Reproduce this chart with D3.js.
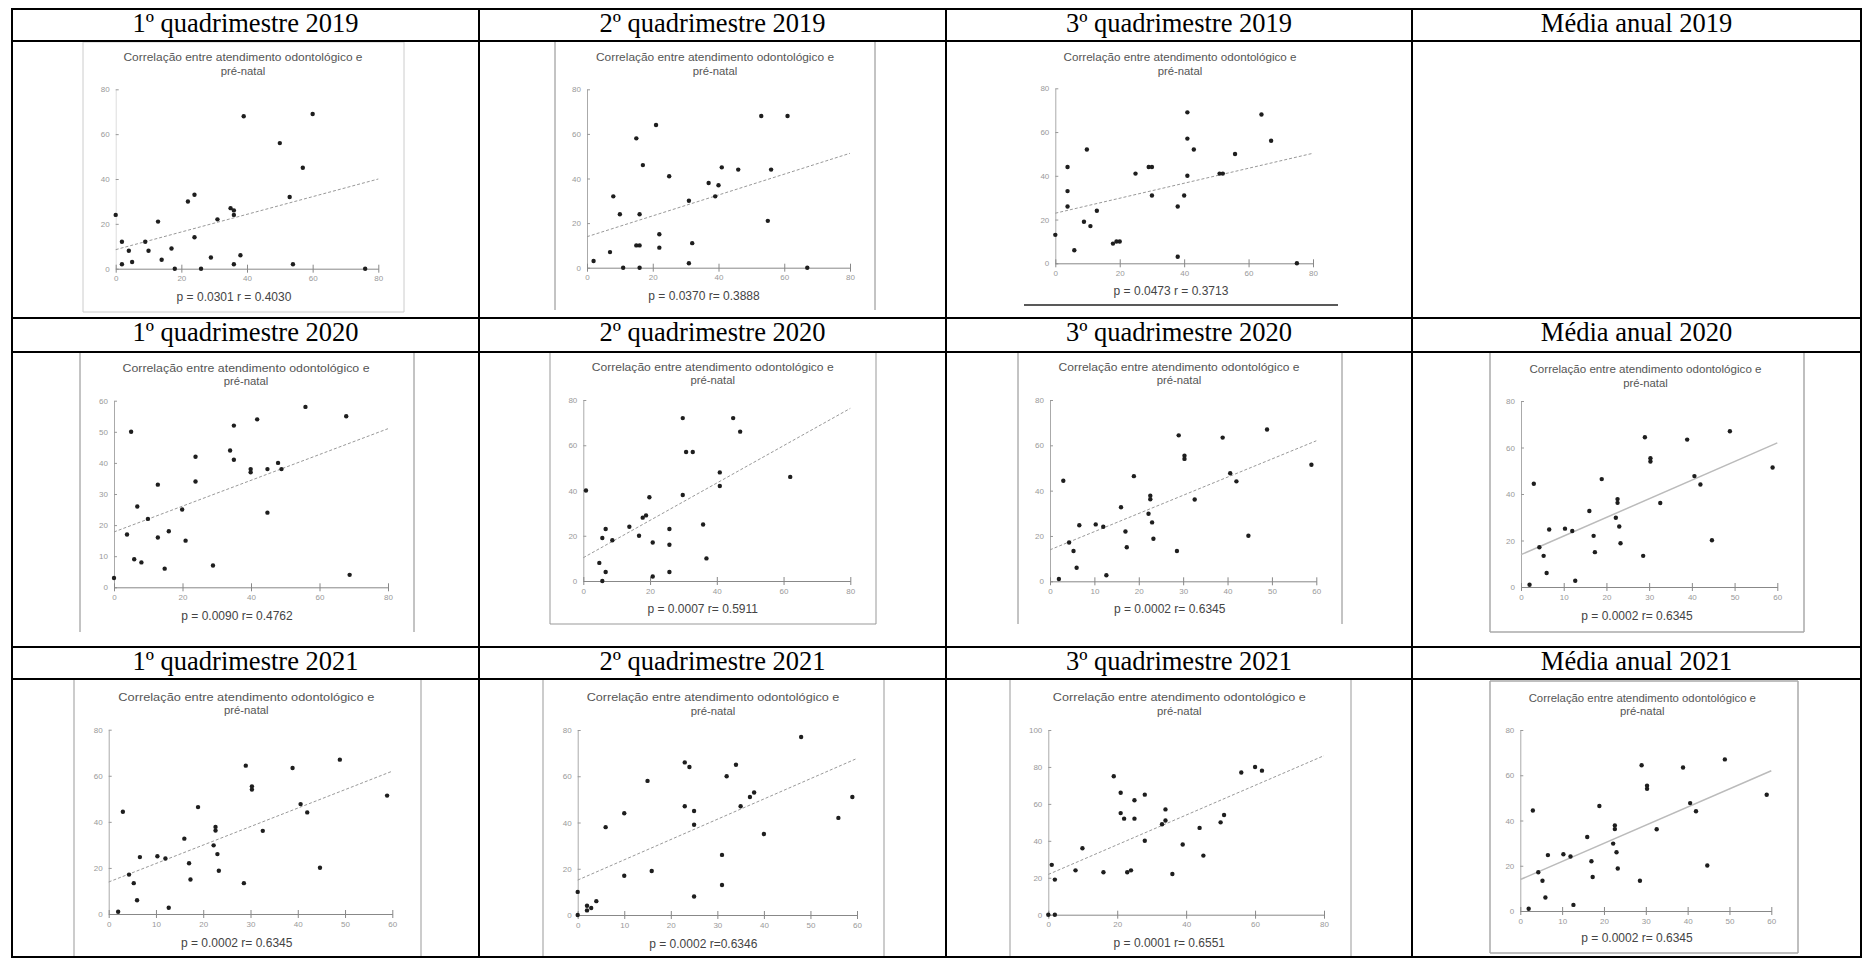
<!DOCTYPE html>
<html>
<head>
<meta charset="utf-8">
<script src="https://cdn.jsdelivr.net/npm/d3@7"></script>
<style>
  body { margin: 0; background: #fff; }
</style>
</head>
<body>
<div id="chart"></div>
<script>
// ---------- data ----------
const headers = [
  ["1º quadrimestre 2019", "2º quadrimestre 2019", "3º quadrimestre 2019", "Média anual 2019"],
  ["1º quadrimestre 2020", "2º quadrimestre 2020", "3º quadrimestre 2020", "Média anual 2020"],
  ["1º quadrimestre 2021", "2º quadrimestre 2021", "3º quadrimestre 2021", "Média anual 2021"]
];
const titleLines = ["Correlação entre atendimento odontológico e", "pré-natal"];

const ticks0to80by20 = [0, 20, 40, 60, 80];
const ticks0to60by10 = [0, 10, 20, 30, 40, 50, 60];
const ticks0to100by20 = [0, 20, 40, 60, 80, 100];

// points are [odontológico, pré-natal]
const pts_q1_2019 = [[0,24],[1.9,12],[1.9,2],[4,8],[5,3],[9,12],[10,8],[12.9,21],[14,4],[17,9],[18,0],
  [22,30],[24,33],[24,14],[26,0],[29,5],[31,22],[35,27],[36,26],[36,24],[36,2],[38,6],[39,68],
  [50,56],[53,32],[54,2],[57,45],[60,69],[76,0]];
const pts_q2_2019 = [[2,3],[7,7],[8,32],[10,24],[11,0],[15,58],[15,10],[16,10],[16,24],[16,0],[17,46],
  [21,64],[22,15],[22,9],[25,41],[31,30],[31,2],[32,11],[37,38],[40,37],[39,32],[41,45],[46,44],
  [53,68],[55,21],[56,44],[61,68],[67,0]];
const pts_q3_2019 = [[0,13],[3.8,44],[3.8,33],[3.8,26],[5.9,6],[8.9,19],[9.8,52],[10.9,17],[12.9,24],
  [17.9,9],[19,10],[20,10],[24.9,41],[29,44],[30,44],[30,31],[38,26],[38,3],[40,31],[41,69],[41,57],
  [41,40],[43,52],[51,41],[52,41],[55.8,50],[64,68],[67,56],[75,0]];
const pts_q1_2020 = [[0,3],[3.8,17],[5,50],[5.9,9],[6.8,26],[8,8],[9.9,22],[12.8,33],[12.8,16],[14.8,6],
  [16,18],[19.9,25],[20.9,15],[23.8,42],[23.8,34],[28.9,7],[33.9,44],[35,52],[35,41],[39.9,38],
  [39.9,37],[41.8,54],[44.8,38],[44.8,24],[47.9,40],[48.9,38],[55.9,58],[67.8,55],[68.8,4]];
const pts_q2_2020 = [[0.8,40],[4.8,8],[5.7,19],[5.7,0],[6.7,23],[6.7,4],[8.7,18],[13.8,24],[16.7,20],
  [17.8,28],[18.8,29],[19.8,37],[20.8,17],[20.8,2],[25.8,23],[25.8,16],[25.8,4],[29.8,72],[29.8,38],
  [30.8,57],[32.8,57],[35.9,25],[36.9,10],[40.9,48],[40.9,42],[44.9,72],[47,66],[62,46]];
// the 3º quadrimestre 2020 chart is repeated for média 2020, 1º quad. 2021 and média 2021
const pts_q3_2020 = [[2,1],[3,44.4],[4.3,17.1],[5.3,13.4],[6,6],[6.6,24.7],[10.3,25.1],[12,24.1],
  [12.7,2.7],[16,32.7],[17,22],[17.3,15],[18.9,46.4],[22.2,29.8],[22.6,37.8],[22.6,36.2],[23,26],
  [23.3,18.8],[28.6,13.4],[29,64.4],[30.3,55.4],[30.3,54],[32.6,36.1],[38.9,63.4],[40.6,47.7],
  [42,44.1],[44.7,20.1],[48.9,67],[58.9,51.4]];
const pts_q2_2021 = [[0,10],[0,0],[2,4],[2,2],[2.9,3],[4,6],[6,38],[10,44],[10,17],[15,58],[15.9,19],
  [23,66],[23,47],[24,64],[25,45],[25,39],[25,8],[31,26],[31,13],[32,60],[34,65],[35,47],[37,51],
  [37.9,53],[40,35],[48,77],[56,42],[59,51]];
const pts_q3_2021 = [[0,0],[1,27],[1.9,19],[1.9,0],[7.9,24],[9.9,36],[16,23],[19,75],[21,66],[21,55],
  [22,52],[22.9,23],[24,24],[25,62],[25,52],[28,65],[28,40],[33,49],[34,57],[34,51],[36,22],[39,38],
  [43.9,47],[45,32],[50,50],[51,54],[56,77],[60,80],[62,78]];

// regression lines: [x start, y start, x end, y end]
const trend_q1_2019 = [0, 8.5, 80, 40];
const trend_q2_2019 = [0, 13.9, 80, 51.3];
const trend_q3_2019 = [0, 22.9, 80, 50.3];
const trend_q1_2020 = [0, 17.8, 80, 51];
const trend_q2_2020 = [0, 10.3, 80, 76.3];
const trend_q3_2020 = [0, 13.9, 60, 62];
const trend_q2_2021 = [0, 15.1, 60, 67.7];
const trend_q3_2021 = [0, 21.8, 80, 86.1];

const stats = ["p = 0.0301 r = 0.4030", "p = 0.0370 r= 0.3888", "p = 0.0473 r = 0.3713",
  "p = 0.0090 r= 0.4762", "p = 0.0007 r= 0.5911", "p = 0.0002 r= 0.6345", "p = 0.0002 r= 0.6345",
  "p = 0.0002 r= 0.6345", "p = 0.0002 r=0.6346", "p = 0.0001 r= 0.6551", "p = 0.0002 r= 0.6345"];

// ---------- layout ----------
const W = 1863, H = 958;
const colX = [12, 479, 946, 1412, 1861];
const rowY = [9, 41, 318, 352, 647, 679, 957];

// frame: [left, right, top, bottom]; plot area: x0/x1, y0/y1 in px
const panels = [
  {row:0, col:0, pts:pts_q1_2019, trend:trend_q1_2019, xT:ticks0to80by20, yT:ticks0to80by20,
   frame:[83,404,42,312], sides:"tblr", fc:"#ccc", x0:115.7, x1:378.3, y0:268.7, y1:89.3,
   tx:243, ty:57, tw:239, sx:234, sy:296, solid:false, yLine:"#ddd"},
  {row:0, col:1, pts:pts_q2_2019, trend:trend_q2_2019, xT:ticks0to80by20, yT:ticks0to80by20,
   frame:[555,875,42,310], sides:"lr", fc:"#888", x0:587, x1:850, y0:267.7, y1:89.3,
   tx:715, ty:57, tw:238, sx:704, sy:295, solid:false},
  {row:0, col:2, pts:pts_q3_2019, trend:trend_q3_2019, xT:ticks0to80by20, yT:ticks0to80by20,
   frame:[1024,1338,42,305], sides:"b", fc:"#222", x0:1055.3, x1:1313, y0:263.3, y1:88.3,
   tx:1180, ty:57, tw:233, sx:1171, sy:290, solid:false},
  {row:1, col:0, pts:pts_q1_2020, trend:trend_q1_2020, xT:ticks0to80by20, yT:[0,10,20,30,40,50,60],
   frame:[80,414,352,632], sides:"lr", fc:"#888", x0:114, x1:388, y0:587.3, y1:400.7,
   tx:246, ty:367.7, tw:247, sx:237, sy:615.7, solid:false},
  {row:1, col:1, pts:pts_q2_2020, trend:trend_q2_2020, xT:ticks0to80by20, yT:ticks0to80by20,
   frame:[550,876,352,624], sides:"lrb", fc:"#999", x0:583.3, x1:850.3, y0:581, y1:400,
   tx:712.7, ty:366.7, tw:242, sx:702.7, sy:608.7, solid:false},
  {row:1, col:2, pts:pts_q3_2020, trend:trend_q3_2020, xT:ticks0to60by10, yT:ticks0to80by20,
   frame:[1018,1342,352,624], sides:"lr", fc:"#888", x0:1050, x1:1316.3, y0:581.3, y1:400,
   tx:1179, ty:366.7, tw:241, sx:1169.7, sy:608.7, solid:false},
  {row:1, col:3, pts:pts_q3_2020, trend:trend_q3_2020, xT:ticks0to60by10, yT:ticks0to80by20,
   frame:[1490,1804,352,632], sides:"tblr", fc:"#aaa", x0:1521, x1:1777.3, y0:587, y1:401,
   tx:1645.5, ty:369, tw:232, sx:1637, sy:615, solid:true},
  {row:2, col:0, pts:pts_q3_2020, trend:trend_q3_2020, xT:ticks0to60by10, yT:ticks0to80by20,
   frame:[74,421,679,958], sides:"lr", fc:"#999", x0:108.7, x1:392.3, y0:914, y1:729.7,
   tx:246.3, ty:696.7, tw:256, sx:236.7, sy:942, solid:false},
  {row:2, col:1, pts:pts_q2_2021, trend:trend_q2_2021, xT:ticks0to60by10, yT:ticks0to80by20,
   frame:[543,884,679,958], sides:"lr", fc:"#999", x0:577.7, x1:857, y0:915, y1:730,
   tx:713, ty:697.3, tw:252.7, sx:703.3, sy:943.3, solid:false},
  {row:2, col:2, pts:pts_q3_2021, trend:trend_q3_2021, xT:ticks0to80by20, yT:ticks0to100by20,
   frame:[1010,1351,679,958], sides:"lr", fc:"#999", x0:1048.3, x1:1324, y0:914.7, y1:730,
   tx:1179.3, ty:697, tw:253, sx:1169.3, sy:942.7, solid:false},
  {row:2, col:3, pts:pts_q3_2020, trend:trend_q3_2020, xT:ticks0to60by10, yT:ticks0to80by20,
   frame:[1490,1798,681,953], sides:"tblr", fc:"#aaa", x0:1520.3, x1:1771.3, y0:911, y1:730,
   tx:1642.3, ty:697.7, tw:227.3, sx:1637, sy:937.7, solid:true}
];

const svg = d3.select("#chart")
  .append("svg")
    .attr("width", W)
    .attr("height", H)
    .style("display", "block");

svg.append("rect").attr("width", W).attr("height", H).attr("fill", "#fff");

// one chart per panel
panels.forEach(function (p, i) {
  const g = svg.append("g").attr("class", "panel");

  // frame of the pasted chart image
  const [fl, fr, ft, fb] = p.frame;
  const sideLines = {t:[fl,ft,fr,ft], b:[fl,fb,fr,fb], l:[fl,ft,fl,fb], r:[fr,ft,fr,fb]};
  p.sides.split("").forEach(function (s) {
    const c = sideLines[s];
    g.append("line")
      .attr("x1", c[0]).attr("y1", c[1]).attr("x2", c[2]).attr("y2", c[3])
      .attr("stroke", p.fc)
      .attr("stroke-width", s === "b" && p.fc === "#222" ? 1.5 : (p.solid ? 1.5 : 1));
  });

  // title
  titleLines.forEach(function (t, k) {
    const txt = g.append("text")
      .attr("x", p.tx)
      .attr("y", p.ty + 4 + k * 13.5)
      .attr("text-anchor", "middle")
      .attr("font-family", "'Liberation Sans', Arial, sans-serif")
      .attr("font-size", 11.3)
      .attr("fill", "#555")
      .text(t);
    if (k === 0) txt.attr("textLength", p.tw).attr("lengthAdjust", "spacingAndGlyphs");
  });

  const xMax = p.xT[p.xT.length - 1], yMax = p.yT[p.yT.length - 1];
  const x = d3.scaleLinear().domain([0, xMax]).range([p.x0, p.x1]);
  const y = d3.scaleLinear().domain([0, yMax]).range([p.y0, p.y1]);

  // y axis
  g.append("g")
    .attr("transform", `translate(${p.x0},0)`)
    .call(d3.axisLeft(y).tickValues(p.yT).tickSize(4).tickSizeOuter(0).tickPadding(2))
    .call(function (a) {
      a.select(".domain").attr("stroke", p.yLine || "#aaa");
      a.selectAll(".tick line").attr("x2", 3).attr("stroke", "#999");
      a.selectAll(".tick text").attr("fill", "#999")
        .attr("font-size", 8).attr("font-family", "'Liberation Sans', Arial, sans-serif");
    });

  // x axis
  g.append("g")
    .attr("transform", `translate(0,${p.y0})`)
    .call(d3.axisBottom(x).tickValues(p.xT).tickSize(4).tickSizeOuter(0).tickPadding(3))
    .call(function (a) {
      a.select(".domain").attr("stroke", "#888");
      a.selectAll(".tick line").attr("y1", -4).attr("stroke", "#888");
      a.selectAll(".tick text").attr("fill", "#999")
        .attr("font-size", 8).attr("font-family", "'Liberation Sans', Arial, sans-serif");
    });

  // trend line
  g.append("line")
    .attr("x1", x(p.trend[0])).attr("y1", y(p.trend[1]))
    .attr("x2", x(p.trend[2])).attr("y2", y(p.trend[3]))
    .attr("stroke", p.solid ? "#bbb" : "#999")
    .attr("stroke-width", p.solid ? 1.5 : 1)
    .attr("stroke-dasharray", p.solid ? null : "3,2");

  // points
  g.selectAll("circle")
    .data(p.pts)
    .enter()
    .append("circle")
      .attr("cx", function (d) { return x(d[0]); })
      .attr("cy", function (d) { return y(d[1]); })
      .attr("r", 2.2)
      .attr("fill", "#1e1e1e");

  // p / r
  g.append("text")
    .attr("x", p.sx)
    .attr("y", p.sy + 4.5)
    .attr("text-anchor", "middle")
    .attr("font-family", "'Liberation Sans', Arial, sans-serif")
    .attr("font-size", 12)
    .attr("fill", "#444")
    .text(stats[i]);
});

// table header texts
headers.forEach(function (row, r) {
  row.forEach(function (h, c) {
    svg.append("text")
      .attr("x", (colX[c] + colX[c + 1]) / 2)
      .attr("y", rowY[r * 2] + 23)
      .attr("text-anchor", "middle")
      .attr("font-family", "'Liberation Serif', 'Times New Roman', serif")
      .attr("font-size", 26.5)
      .attr("fill", "#000")
      .text(h);
  });
});

// table rules
const grid = svg.append("g").attr("stroke", "#000").attr("stroke-width", 2);
rowY.forEach(function (yy) {
  grid.append("line").attr("x1", colX[0] - 1).attr("x2", colX[4] + 1).attr("y1", yy).attr("y2", yy);
});
colX.forEach(function (xx) {
  grid.append("line").attr("x1", xx).attr("x2", xx).attr("y1", rowY[0]).attr("y2", rowY[6]);
});
</script>
</body>
</html>
